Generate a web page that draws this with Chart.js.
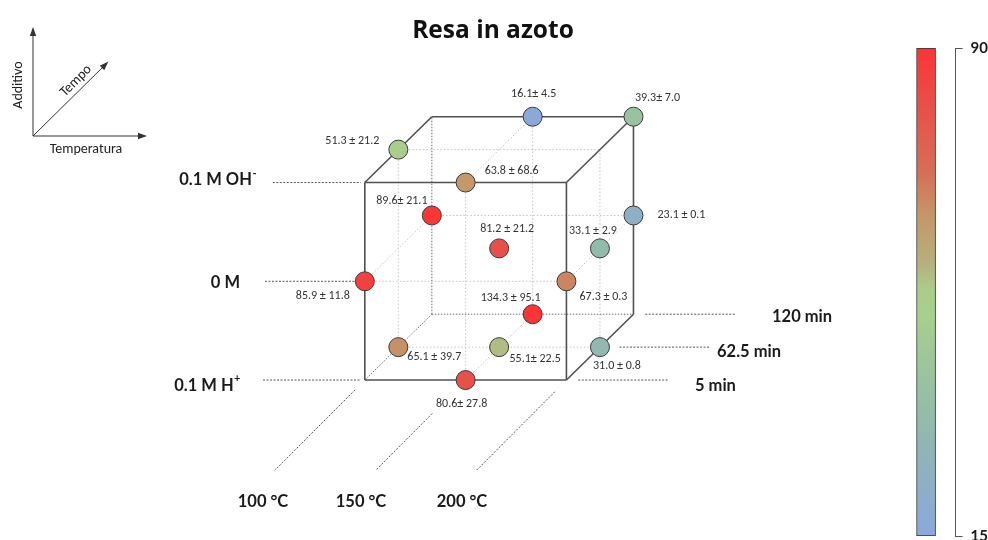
<!DOCTYPE html>
<html>
<head>
<meta charset="utf-8">
<script src="https://cdn.jsdelivr.net/npm/chart.js@4.4.1/dist/chart.umd.min.js"></script>
<style>
  html, body { margin: 0; padding: 0; background: #ffffff; }
  #wrap { position: relative; width: 988px; height: 540px; overflow: hidden; }
  #main { position: absolute; left: 0; top: 0; }
  #cbar { position: absolute; left: 895px; top: 0; }
</style>
</head>
<body>
<div id="wrap">
  <canvas id="main" width="988" height="540"></canvas>
  <canvas id="cbar" width="101" height="540"></canvas>
</div>
<script>
// ---- Design levels ----
const temperatures = [100, 150, 200];          // °C
const times = [5, 62.5, 120];                   // min
const additives = [-0.1, 0, 0.1];               // M  (negative = H+, positive = OH-)
const temperatureLabels = ['100 °C', '150 °C', '200 °C'];
const timeLabels = ['5 min', '62.5 min', '120 min'];
const additiveLabels = ['0.1 M H', '0 M', '0.1 M OH'];
const additiveCharges = ['+', '', '-'];

// ---- Runs: conditions and nitrogen yield (mean ± sd) ----
const runTemperature = [100, 150, 100, 150, 200, 150, 200, 200, 200, 150, 100, 150, 100, 150, 200];
const runTime        = [5, 5, 62.5, 62.5, 62.5, 120, 5, 62.5, 120, 62.5, 120, 5, 62.5, 120, 120];
const runAdditive    = [0, -0.1, -0.1, -0.1, -0.1, -0.1, 0, 0, 0, 0, 0, 0.1, 0.1, 0.1, 0.1];
const yieldMean      = [85.9, 80.6, 65.1, 55.1, 31.0, 134.3, 67.3, 33.1, 23.1, 81.2, 89.6, 63.8, 51.3, 16.1, 39.3];
const yieldSd        = [11.8, 27.8, 39.7, 22.5, 0.8, 95.1, 0.3, 2.9, 0.1, 21.2, 21.1, 68.6, 21.2, 4.5, 7.0];
const labelSeparators = [' ± ', '± ', ' ± ', '± ', ' ± ', ' ± ', ' ± ', ' ± ', ' ± ', ' ± ', '± ', ' ± ', ' ± ', '± ', '± '];

// ---- Colour scale ----
const colorbarTicks = [15, 90];
const colorStops = [
  [15, '#8aa8da'], [20, '#8cadd0'], [29, '#8fb6b5'], [39, '#98c39f'], [49, '#a8cf8c'],
  [53, '#aacc88'], [57, '#b6b07c'], [64, '#c4976a'], [71, '#d66e56'], [81, '#e8504a'], [90, '#fb3535']
];

// ---- Layout (pixels) ----
const CUBE = { ox: 362, oy: 384.5, tempSpan: 206, depthX: 68.5, depthY: -68.5, height: 205.5 };
const labelOffsets = [
  [-42, 15], [-4, 24], [36, 10], [36, 12], [17, 19], [-22, -16], [37, 16], [-7, -17],
  [48, 0], [8, -19], [-30, -14], [46, -12], [-46, -9], [1, -23], [24, -19]
];
const additiveLeaderStart = [258, 260, 268];
const additiveLabelRight = [240, 240, 256];
const timeLeaderGap = [12, 20, 12];
const timeLabelLeft = [695, 717, 772];
const tempLeaderVector = [-92, 94];
const tempLeaderStart = [0.11, 0.37, 0.13];
const tempLabelX = [263, 361, 462];

const FONT = "Carlito, Lato, 'Noto Sans', sans-serif";
const BOLD = "Lato, 'Open Sans', sans-serif";

function hexToRgb(h) {
  const n = parseInt(h.slice(1), 16);
  return [(n >> 16) & 255, (n >> 8) & 255, n & 255];
}
function colorFor(v) {
  const c = Math.max(colorStops[0][0], Math.min(colorStops[colorStops.length - 1][0], v));
  for (let i = 0; i < colorStops.length - 1; i++) {
    const [v0, c0] = colorStops[i], [v1, c1] = colorStops[i + 1];
    if (c >= v0 && c <= v1) {
      const f = (c - v0) / (v1 - v0);
      const a = hexToRgb(c0), b = hexToRgb(c1);
      const m = a.map((x, k) => Math.round(x + (b[k] - x) * f));
      return `rgb(${m[0]},${m[1]},${m[2]})`;
    }
  }
  return colorStops[colorStops.length - 1][1];
}

function frac(v, arr) { return (v - arr[0]) / (arr[arr.length - 1] - arr[0]); }
// Oblique projection of (temperature, time, additive) onto the page
function project(T, t, A) {
  const u = frac(T, temperatures), w = frac(t, times), h = frac(A, additives);
  return { x: CUBE.ox + u * CUBE.tempSpan + w * CUBE.depthX, y: CUBE.oy - h * CUBE.height + w * CUBE.depthY };
}
function C(i, j, k) { return project(temperatures[i], times[j], additives[k]); }

// Cube edges and face mid-lines in level indices
const visibleEdges = [
  [[0,0,0],[2,0,0]], [[2,0,0],[2,0,2]], [[2,0,2],[0,0,2]], [[0,0,2],[0,0,0]],
  [[0,0,2],[0,2,2]], [[0,2,2],[2,2,2]], [[2,2,2],[2,0,2]],
  [[2,2,2],[2,2,0]], [[2,2,0],[2,0,0]]
];
const hiddenEdges = [
  [[0,2,0],[2,2,0]], [[0,2,0],[0,2,2]], [[0,2,0],[0,0,0]]
];
const midLines = [
  [[1,0,0],[1,0,2]], [[0,0,1],[2,0,1]],
  [[1,2,0],[1,2,2]], [[0,2,1],[2,2,1]],
  [[0,1,0],[0,1,2]], [[0,0,1],[0,2,1]],
  [[2,1,0],[2,1,2]], [[2,0,1],[2,2,1]],
  [[0,1,2],[2,1,2]], [[1,0,2],[1,2,2]],
  [[0,1,0],[2,1,0]], [[1,0,0],[1,2,0]]
];

function lineSet(points, color, width, dash, order) {
  return {
    data: points, showLine: true, pointRadius: 0, pointHoverRadius: 0,
    borderColor: color, borderWidth: width, borderDash: dash || [], fill: false, order: order
  };
}

const datasets = [];
// points first so they are drawn on top
const pointData = runTemperature.map((T, i) => project(T, runTime[i], runAdditive[i]));
datasets.push({
  data: pointData,
  pointRadius: 9.5, pointHoverRadius: 9.5,
  pointBackgroundColor: yieldMean.map(colorFor),
  pointBorderColor: '#3a3a3a', pointBorderWidth: 1, order: 0
});
midLines.forEach(([a, b]) => datasets.push(lineSet([C(...a), C(...b)], '#c4c4c4', 1, [1.5, 2], 3)));
hiddenEdges.forEach(([a, b]) => datasets.push(lineSet([C(...a), C(...b)], '#6e6e6e', 1, [1.5, 1.5], 2)));
visibleEdges.forEach(([a, b]) => datasets.push(lineSet([C(...a), C(...b)], '#505050', 1.6, [], 1)));

// leaders from the level labels to the cube
additives.forEach((A, i) => {
  const p = project(temperatures[0], times[0], A);
  datasets.push(lineSet([{ x: additiveLeaderStart[i], y: p.y }, { x: p.x - 4, y: p.y }], '#555', 1, [2, 1.5], 2));
});
times.forEach((t, i) => {
  const p = project(temperatures[2], t, additives[0]);
  const x0 = p.x + timeLeaderGap[i];
  datasets.push(lineSet([{ x: x0, y: p.y }, { x: x0 + 92, y: p.y }], '#555', 1, [2, 1.5], 2));
});
temperatures.forEach((T, i) => {
  const p = project(T, times[0], additives[0]);
  const s = tempLeaderStart[i];
  datasets.push(lineSet([
    { x: p.x + tempLeaderVector[0] * s, y: p.y + tempLeaderVector[1] * s },
    { x: p.x + tempLeaderVector[0], y: p.y + tempLeaderVector[1] }
  ], '#555', 1, [2, 1.5], 2));
});

function arrow(ctx, x0, y0, x1, y1) {
  ctx.beginPath(); ctx.moveTo(x0, y0); ctx.lineTo(x1, y1); ctx.stroke();
  const ang = Math.atan2(y1 - y0, x1 - x0), L = 7, W = 3.2;
  ctx.beginPath();
  ctx.moveTo(x1 + Math.cos(ang) * 2, y1 + Math.sin(ang) * 2);
  ctx.lineTo(x1 - Math.cos(ang) * L + Math.sin(ang) * W, y1 - Math.sin(ang) * L - Math.cos(ang) * W);
  ctx.lineTo(x1 - Math.cos(ang) * L - Math.sin(ang) * W, y1 - Math.sin(ang) * L + Math.cos(ang) * W);
  ctx.closePath(); ctx.fill();
}

const decorations = {
  id: 'decorations',
  afterDatasetsDraw(chart) {
    const ctx = chart.ctx;
    ctx.save();
    // value labels next to each point
    const meta = chart.getDatasetMeta(0);
    ctx.fillStyle = '#333';
    ctx.font = `12px ${FONT}`;
    ctx.textAlign = 'center'; ctx.textBaseline = 'middle';
    meta.data.forEach((el, i) => {
      const txt = yieldMean[i].toFixed(1) + labelSeparators[i] + yieldSd[i].toFixed(1);
      ctx.fillText(txt, el.x + labelOffsets[i][0], el.y + labelOffsets[i][1]);
    });

    // title
    ctx.fillStyle = '#111';
    ctx.font = `bold 24.5px 'Open Sans', sans-serif`;
    ctx.fillText('Resa in azoto', 493, 31);

    // additive level labels
    ctx.fillStyle = '#1a1a1a';
    additives.forEach((A, i) => {
      const p = project(temperatures[0], times[0], A);
      const y = p.y + 1;
      const main = additiveLabels[i], ch = additiveCharges[i];
      ctx.font = `bold 16.5px ${BOLD}`;
      const wMain = ctx.measureText(main).width;
      ctx.font = `bold 11px ${BOLD}`;
      const wCh = ch ? ctx.measureText(ch).width : 0;
      const left = additiveLabelRight[i] - wMain - wCh;
      ctx.textAlign = 'left'; ctx.textBaseline = 'middle';
      ctx.font = `bold 16.5px ${BOLD}`;
      ctx.fillText(main, left, y);
      if (ch) { ctx.font = `bold 11px ${BOLD}`; ctx.fillText(ch, left + wMain + 0.5, y - 7); }
    });

    // time level labels
    ctx.font = `bold 16.5px ${BOLD}`;
    ctx.textAlign = 'left';
    times.forEach((t, i) => {
      const p = project(temperatures[2], t, additives[0]);
      ctx.fillText(timeLabels[i], timeLabelLeft[i], p.y + 1);
    });

    // temperature level labels
    ctx.textAlign = 'center';
    temperatures.forEach((T, i) => {
      const p = project(T, times[0], additives[0]);
      ctx.fillText(temperatureLabels[i], tempLabelX[i], p.y + tempLeaderVector[1] + 23);
    });

    // orientation key (top left)
    ctx.strokeStyle = '#333'; ctx.fillStyle = '#333'; ctx.lineWidth = 1;
    arrow(ctx, 33, 136, 33, 29);
    arrow(ctx, 33, 136, 145, 136);
    arrow(ctx, 33, 136, 107, 63);
    ctx.fillStyle = '#222';
    ctx.font = `14px ${FONT}`;
    ctx.textAlign = 'center'; ctx.textBaseline = 'middle';
    ctx.fillText('Temperatura', 86, 149);
    ctx.save(); ctx.translate(18, 85); ctx.rotate(-Math.PI / 2); ctx.fillText('Additivo', 0, 0); ctx.restore();
    ctx.save(); ctx.translate(76, 81); ctx.rotate(-Math.PI / 4); ctx.fillText('Tempo', 0, 0); ctx.restore();

    ctx.restore();
  }
};

new Chart(document.getElementById('main'), {
  type: 'scatter',
  data: { datasets },
  options: {
    responsive: false, animation: false, events: [],
    layout: { padding: 0 },
    plugins: { legend: { display: false }, tooltip: { enabled: false }, title: { display: false } },
    scales: {
      x: { type: 'linear', min: 0, max: 988, display: false },
      y: { type: 'linear', min: 0, max: 540, reverse: true, display: false }
    }
  },
  plugins: [decorations]
});

// ---- Colour bar ----
new Chart(document.getElementById('cbar'), {
  type: 'bar',
  data: {
    datasets: [{
      data: [{ x: 0.525, y: [colorbarTicks[0], colorbarTicks[1]] }],
      barThickness: 19,
      borderColor: '#333', borderWidth: 1, borderSkipped: false,
      backgroundColor(ctx) {
        const chart = ctx.chart;
        if (!chart.chartArea) return '#ccc';
        const ys = chart.scales.y;
        const g = chart.ctx.createLinearGradient(0, ys.getPixelForValue(colorbarTicks[0]), 0, ys.getPixelForValue(colorbarTicks[1]));
        colorStops.forEach(([v, c]) => g.addColorStop((v - colorbarTicks[0]) / (colorbarTicks[1] - colorbarTicks[0]), c));
        return g;
      }
    }]
  },
  options: {
    responsive: false, animation: false, events: [],
    layout: { padding: { top: 48, bottom: 4, left: 0, right: 0 } },
    plugins: { legend: { display: false }, tooltip: { enabled: false } },
    scales: {
      x: { type: 'linear', min: 0, max: 1, display: false },
      y: {
        position: 'right', min: colorbarTicks[0], max: colorbarTicks[1],
        afterBuildTicks(scale) { scale.ticks = colorbarTicks.map(v => ({ value: v })); },
        afterFit(scale) { scale.paddingTop = 0; scale.paddingBottom = 0; },
        grid: { display: true, drawOnChartArea: false, drawTicks: true, tickLength: 7, color: '#555' },
        border: { display: true, color: '#555', width: 1 },
        ticks: { font: { family: 'Lato', weight: 'bold', size: 15 }, color: '#1a1a1a', padding: 8 }
      }
    }
  }
});
</script>
</body>
</html>
